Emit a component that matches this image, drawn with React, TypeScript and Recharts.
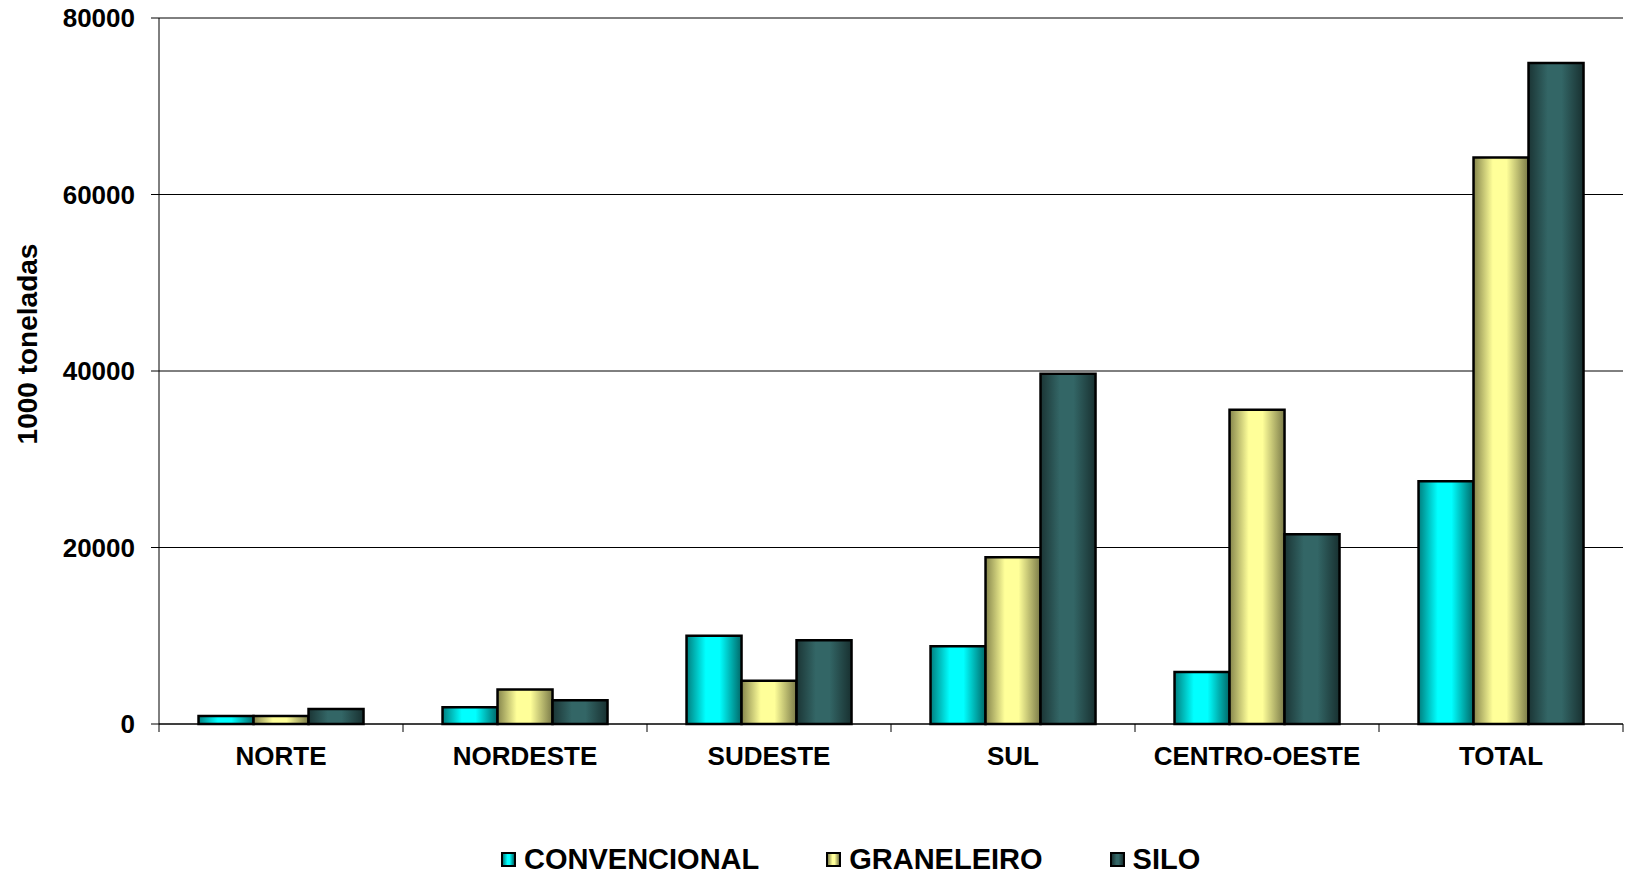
import { BarChart, Bar, XAxis, YAxis, CartesianGrid, Legend } from 'recharts';

const regions = ['NORTE', 'NORDESTE', 'SUDESTE', 'SUL', 'CENTRO-OESTE', 'TOTAL'];
const convencional = [900, 1900, 10000, 8800, 5900, 27500];
const graneleiro = [900, 3900, 4900, 18900, 35600, 64200];
const silo = [1700, 2700, 9500, 39700, 21500, 74900];
const yTicks = [0, 20000, 40000, 60000, 80000];

const W = 1629;
const H = 873;
const PLOT_LEFT = 159;
const PLOT_RIGHT = 6;
const BAND = (W - PLOT_LEFT - PLOT_RIGHT) / regions.length;
const FONT = '"Liberation Sans", Arial, sans-serif';

const data = regions.map((name, i) => ({
  name,
  convencional: convencional[i],
  graneleiro: graneleiro[i],
  silo: silo[i],
}));

const series = [
  { key: 'convencional', label: 'CONVENCIONAL', grad: 'gConv', dark: '#007f7f', light: '#00ffff', edge: '#006868' },
  { key: 'graneleiro', label: 'GRANELEIRO', grad: 'gGran', dark: '#85854c', light: '#ffff99', edge: '#7a7a48' },
  { key: 'silo', label: 'SILO', grad: 'gSilo', dark: '#1b3535', light: '#336666', edge: '#183030' },
];

// category label plus the small boundary ticks under the axis
const CategoryTick = (props: any) => {
  const { x, y, payload, index } = props;
  const left = x - BAND / 2;
  return (
    <g>
      <line x1={left} y1={y} x2={left} y2={y + 8} stroke="#000" strokeWidth={1} />
      {index === regions.length - 1 && (
        <line x1={x + BAND / 2} y1={y} x2={x + BAND / 2} y2={y + 8} stroke="#000" strokeWidth={1} />
      )}
      <text
        x={x}
        y={y + 32}
        textAnchor="middle"
        dominantBaseline="central"
        fontFamily={FONT}
        fontWeight="bold"
        fontSize={26}
        fill="#000"
      >
        {payload.value}
      </text>
    </g>
  );
};

const LegendContent = () => (
  <div
    style={{
      height: 40,
      boxSizing: 'border-box',
      paddingTop: 12,
      paddingLeft: 501,
      display: 'flex',
      alignItems: 'center',
      gap: 67,
      fontFamily: FONT,
      fontWeight: 'bold',
      fontSize: 29,
      color: '#000',
    }}
  >
    {series.map((s) => (
      <div key={s.key} style={{ display: 'flex', alignItems: 'center', gap: 8 }}>
        <div
          style={{
            width: 11,
            height: 11,
            border: '2px solid #000',
            background: `linear-gradient(to right, ${s.dark}, ${s.light} 40%, ${s.light} 60%, ${s.edge})`,
          }}
        />
        <span style={{ lineHeight: '28px' }}>{s.label}</span>
      </div>
    ))}
  </div>
);

const YTitle = (props: any) => {
  const cy = props.viewBox.y + props.viewBox.height / 2 - 27;
  return (
    <text
      x={27}
      y={cy}
      transform={`rotate(-90, 27, ${cy})`}
      textAnchor="middle"
      dominantBaseline="central"
      fontFamily={FONT}
      fontWeight="bold"
      fontSize={28}
      fill="#000"
    >
      1000 toneladas
    </text>
  );
};

export default function App() {
  return (
    <div style={{ position: 'absolute', left: 0, top: 0, width: W, height: H, background: '#fff' }}>
      <BarChart
        width={W}
        height={H}
        data={data}
        margin={{ top: 18, right: PLOT_RIGHT, left: 0, bottom: 0 }}
        barCategoryGap="16.2%"
        barGap={0}
      >
        <defs>
          {series.map((s) => (
            <linearGradient key={s.grad} id={s.grad} x1="0" y1="0" x2="1" y2="0">
              <stop offset="0%" stopColor={s.dark} />
              <stop offset="35%" stopColor={s.light} />
              <stop offset="60%" stopColor={s.light} />
              <stop offset="100%" stopColor={s.edge} />
            </linearGradient>
          ))}
        </defs>
        <CartesianGrid vertical={false} stroke="#000" strokeWidth={1} />
        <XAxis
          dataKey="name"
          height={109}
          axisLine={{ stroke: '#000' }}
          tickLine={false}
          tickSize={0}
          tickMargin={0}
          interval={0}
          tick={<CategoryTick />}
        />
        <YAxis
          width={PLOT_LEFT}
          domain={[0, 80000]}
          ticks={yTicks}
          interval={0}
          axisLine={{ stroke: '#000' }}
          tickLine={{ stroke: '#000' }}
          tickSize={8}
          tickMargin={16}
          tick={{ fontSize: 26, fontWeight: 'bold', fill: '#000', fontFamily: FONT }}
          label={{ content: <YTitle /> }}
        />
        <Legend verticalAlign="bottom" align="left" content={<LegendContent />} />
        {series.map((s) => (
          <Bar
            key={s.key}
            dataKey={s.key}
            name={s.label}
            fill={`url(#${s.grad})`}
            stroke="#000"
            strokeWidth={2.5}
            isAnimationActive={false}
          />
        ))}
      </BarChart>
    </div>
  );
}
